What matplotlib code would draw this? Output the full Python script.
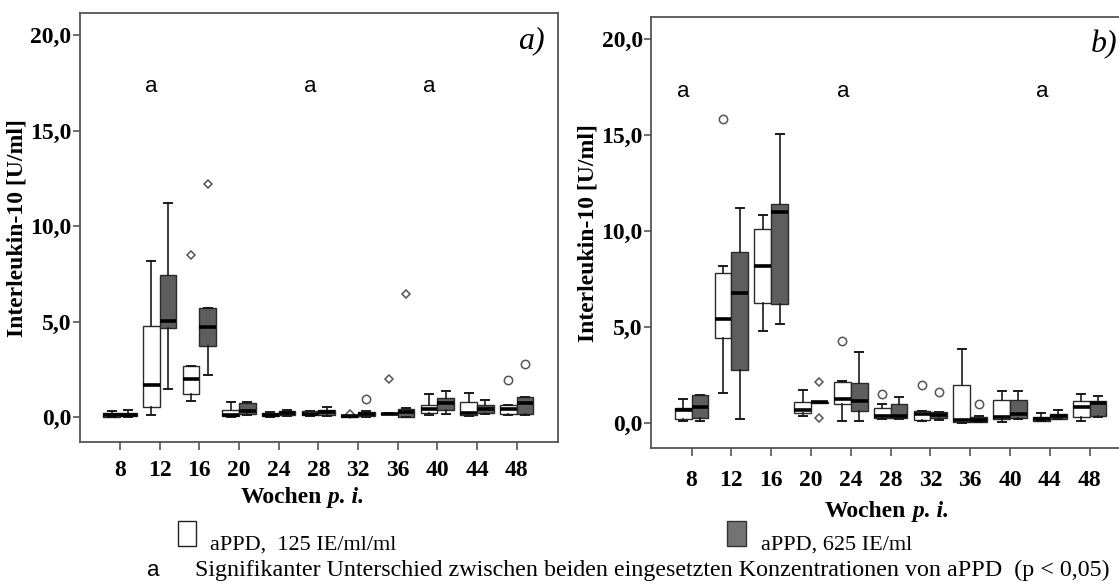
import numpy as np
import matplotlib
matplotlib.use("Agg")
import matplotlib.pyplot as plt
from matplotlib.patches import Rectangle

# ── data ──────────────────────────────────────────────────────────────────────
weeks = [8, 12, 16, 20, 24, 28, 32, 36, 40, 44, 48]

# panel a) – low dose (125) and high dose (625): whislo, q1, med, q3, whishi
a_lo_wlo = [0.00, 0.10, 0.84, 0.02, 0.02, 0.05, 0.03, 0.15, 0.14, 0.07, 0.10]
a_lo_q1  = [0.03, 0.52, 1.22, 0.05, 0.05, 0.09, 0.03, 0.15, 0.24, 0.14, 0.19]
a_lo_med = [0.09, 1.70, 2.01, 0.10, 0.12, 0.15, 0.05, 0.17, 0.45, 0.24, 0.45]
a_lo_q3  = [0.23, 4.77, 2.68, 0.37, 0.20, 0.30, 0.10, 0.20, 0.63, 0.77, 0.66]
a_lo_whi = [0.33, 8.20, 2.68, 0.77, 0.25, 0.32, 0.10, 0.20, 1.19, 1.27, 0.66]

a_hi_wlo = [0.02, 1.45, 2.22, 0.10, 0.05, 0.08, 0.02, 0.02, 0.15, 0.16, 0.13]
a_hi_q1  = [0.04, 4.66, 3.72, 0.18, 0.09, 0.14, 0.05, 0.02, 0.40, 0.24, 0.17]
a_hi_med = [0.10, 5.06, 4.70, 0.30, 0.20, 0.28, 0.18, 0.26, 0.72, 0.45, 0.72]
a_hi_q3  = [0.24, 7.47, 5.70, 0.72, 0.33, 0.40, 0.28, 0.45, 1.03, 0.63, 1.06]
a_hi_whi = [0.38, 11.22, 5.70, 0.82, 0.38, 0.51, 0.32, 0.50, 1.36, 0.92, 1.06]

# outliers: (week index, dose 0=125/1=625, value, marker)
a_out_idx  = [2, 2, 6, 6, 7, 7, 10, 10]
a_out_dose = [0, 1, 0, 1, 0, 1, 0, 1]
a_out_val  = [8.48, 12.22, 0.18, 0.95, 1.99, 6.47, 1.94, 2.76]
a_out_mark = ["D", "D", "D", "o", "D", "D", "o", "o"]
a_sig_idx  = [1, 5, 8]          # week index with "a"

# panel b)
b_lo_wlo = [0.09, 1.56, 4.79, 0.38, 0.09, 0.20, 0.12, 0.02, 0.03, 0.12, 0.09]
b_lo_q1  = [0.21, 4.41, 6.28, 0.52, 0.99, 0.26, 0.17, 0.03, 0.21, 0.12, 0.29]
b_lo_med = [0.66, 5.45, 8.21, 0.66, 1.25, 0.38, 0.48, 0.14, 0.31, 0.21, 0.83]
b_lo_q3  = [0.81, 7.80, 10.09, 1.09, 2.13, 0.78, 0.64, 1.96, 1.18, 0.31, 1.13]
b_lo_whi = [1.25, 8.19, 10.82, 1.73, 2.17, 1.00, 0.64, 3.85, 1.68, 0.52, 1.53]

b_hi_wlo = [0.09, 0.21, 5.16, 1.06, 0.09, 0.21, 0.17, 0.03, 0.21, 0.20, 0.33]
b_hi_q1  = [0.26, 2.76, 6.18, 1.06, 0.64, 0.26, 0.26, 0.05, 0.26, 0.21, 0.38]
b_hi_med = [0.83, 6.79, 11.01, 1.09, 1.16, 0.38, 0.43, 0.17, 0.48, 0.35, 1.05]
b_hi_q3  = [1.44, 8.92, 11.42, 1.11, 2.08, 1.00, 0.59, 0.30, 1.20, 0.48, 1.15]
b_hi_whi = [1.44, 11.22, 15.07, 1.11, 3.73, 1.35, 0.59, 0.35, 1.66, 0.69, 1.42]

b_out_idx  = [1, 3, 3, 4, 5, 6, 6, 7]
b_out_dose = [0, 1, 1, 0, 0, 0, 1, 1]
b_out_val  = [15.87, 2.12, 0.26, 4.30, 1.53, 1.96, 1.61, 1.00]
b_out_mark = ["o", "D", "D", "o", "o", "o", "o", "o"]
b_sig_idx  = [0, 4, 9]

yticks = [0, 5, 10, 15, 20]
ytick_labels = ["0,0", "5,0", "10,0", "15,0", "20,0"]

# ── style ─────────────────────────────────────────────────────────────────────
SERIF = "Liberation Serif"
SANS = "Liberation Sans"
DARK = "#5e5e5e"
SPINE = "#555555"
OFF = 0.21
BW = 0.42


def stats(wlo, q1, med, q3, whi):
    return [dict(whislo=a, q1=b, med=c, q3=d, whishi=e, fliers=[])
            for a, b, c, d, e in zip(wlo, q1, med, q3, whi)]


def panel(ax, lo, hi, out_idx, out_dose, out_val, out_mark, sig_idx, tag,
          xpad, wx, wy):
    x = np.arange(len(weeks))
    for st, pos, face in [(lo, x - OFF, "white"), (hi, x + OFF, DARK)]:
        ax.bxp(stats(*st), positions=pos, widths=BW, capwidths=0.2,
               showfliers=False, patch_artist=True,
               boxprops=dict(facecolor=face, edgecolor="#2a2a2a", linewidth=1.0),
               medianprops=dict(color="black", linewidth=2.6),
               whiskerprops=dict(color="#1a1a1a", linewidth=1.2),
               capprops=dict(color="#1a1a1a", linewidth=1.4))
    for i, d, v, m in zip(out_idx, out_dose, out_val, out_mark):
        ax.plot(i + (OFF if d else -OFF), v, m, ms=4.5 if m == "D" else 6,
                mfc="white", mec="#555555", mew=1.1)
    for i in sig_idx:
        ax.text(i - 0.2, 17.3, "a", fontsize=16, family=SANS,
                ha="center", va="center")
    ax.text(0.945, 0.937, tag, transform=ax.transAxes, fontsize=23,
            family=SERIF, style="italic", ha="center", va="center")

    ax.set_xlim(-1.02, 11.04)
    ax.set_ylim(-1.3, 21.15)
    ax.set_xticks(x)
    ax.set_xticklabels([str(w) for w in weeks])
    ax.set_yticks(yticks)
    ax.set_yticklabels(ytick_labels)
    for lab in ax.get_xticklabels() + ax.get_yticklabels():
        lab.set_family(SERIF)
        lab.set_fontweight("bold")
        lab.set_fontsize(17)
    ax.tick_params(axis="both", direction="out", color=SPINE, width=1.2)
    ax.tick_params(axis="y", length=5, pad=1)
    ax.tick_params(axis="x", length=6, pad=xpad)
    for s in ax.spines.values():
        s.set_color(SPINE)
        s.set_linewidth(1.3)
    ax.set_ylabel("Interleukin-10 [U/ml]", family=SERIF, fontweight="bold",
                  fontsize=17, labelpad=2)
    tr = ax.get_xaxis_transform()
    ax.text(wx, wy, "Wochen", transform=tr, family=SERIF, fontweight="bold",
            fontsize=17, ha="right", va="center")
    ax.text(wx, wy, " p. i.", transform=tr, family=SERIF, fontweight="bold",
            style="italic", fontsize=17, ha="left", va="center")


fig = plt.figure(figsize=(11.19, 5.85), dpi=100)
W, H = 1119, 585
ax_a = fig.add_axes([79.5 / W, 1 - 442 / H, (558 - 79.5) / W, (442 - 13.4) / H])
ax_b = fig.add_axes([651 / W, 1 - 448 / H, (1131 - 651) / W, (448 - 17.3) / H])

panel(ax_a, (a_lo_wlo, a_lo_q1, a_lo_med, a_lo_q3, a_lo_whi),
      (a_hi_wlo, a_hi_q1, a_hi_med, a_hi_q3, a_hi_whi),
      a_out_idx, a_out_dose, a_out_val, a_out_mark, a_sig_idx, "a)",
      xpad=7, wx=5.1, wy=-0.13)
panel(ax_b, (b_lo_wlo, b_lo_q1, b_lo_med, b_lo_q3, b_lo_whi),
      (b_hi_wlo, b_hi_q1, b_hi_med, b_hi_q3, b_hi_whi),
      b_out_idx, b_out_dose, b_out_val, b_out_mark, b_sig_idx, "b)",
      xpad=10, wx=5.4, wy=-0.148)

# ── legend / footnote ─────────────────────────────────────────────────────────
fig.add_artist(Rectangle((178 / W, 1 - 546 / H), 18 / W, 25 / H,
                         transform=fig.transFigure, facecolor="white",
                         edgecolor="#222222", linewidth=1.0))
fig.text(210 / W, 1 - 545 / H, "aPPD,  125 IE/ml/ml", family=SERIF,
         fontsize=16, va="center", ha="left")
fig.add_artist(Rectangle((727 / W, 1 - 546 / H), 19 / W, 25 / H,
                         transform=fig.transFigure, facecolor="#737373",
                         edgecolor="#333333", linewidth=1.0))
fig.text(761 / W, 1 - 545 / H, "aPPD, 625 IE/ml", family=SERIF,
         fontsize=16, va="center", ha="left")
fig.text(153 / W, 1 - 570 / H, "a", family=SANS, fontsize=16,
         va="center", ha="center")
fig.text(195 / W, 1 - 570 / H,
         "Signifikanter Unterschied zwischen beiden eingesetzten "
         "Konzentrationen von aPPD  (p < 0,05)",
         family=SERIF, fontsize=17.3, va="center", ha="left")

fig.savefig("out.png", dpi=100)
